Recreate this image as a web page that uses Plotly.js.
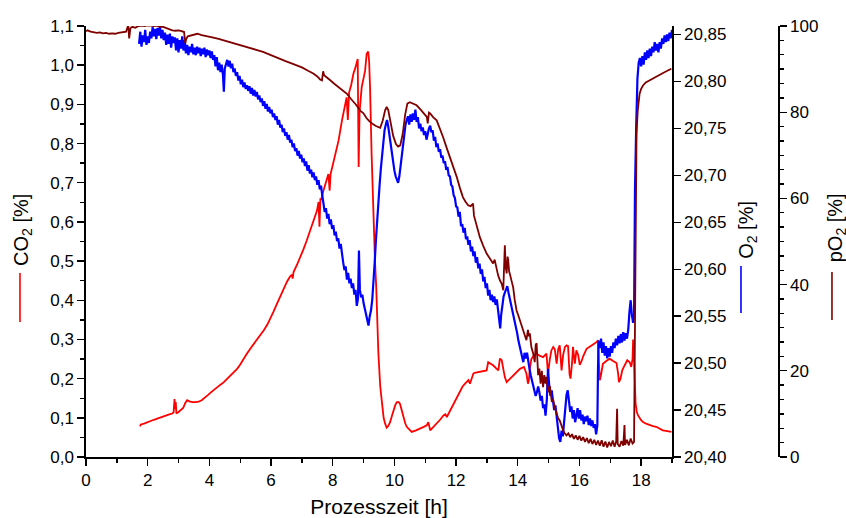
<!DOCTYPE html>
<html>
<head>
<meta charset="utf-8">
<script src="https://cdn.plot.ly/plotly-3.0.1.min.js"></script>
<style>html,body{margin:0;padding:0;background:#fff;}#chart{width:846px;height:518px;}</style>
</head>
<body>
<div id="chart"></div>
<script>
// Prozesszeit [h] vs. CO2 [%]
const co2Data = [
[1.75,0.078],[1.78,0.083],[1.88,0.085],[2.00,0.088],[2.10,0.091],[2.20,0.095],[2.31,0.098],[2.40,0.101],[2.50,0.103],[2.60,0.106],
[2.70,0.109],[2.80,0.111],[2.84,0.114],[2.87,0.148],[2.89,0.122],[2.91,0.140],[2.93,0.111],[3.00,0.115],[3.06,0.119],[3.15,0.125],
[3.22,0.138],[3.28,0.145],[3.35,0.142],[3.45,0.140],[3.55,0.140],[3.65,0.141],[3.75,0.145],[3.82,0.149],[3.95,0.158],[4.05,0.165],
[4.14,0.170],[4.25,0.177],[4.35,0.184],[4.47,0.191],[4.58,0.200],[4.68,0.208],[4.80,0.217],[4.90,0.225],[5.00,0.236],[5.10,0.250],
[5.22,0.264],[5.35,0.279],[5.45,0.290],[5.55,0.298],[5.65,0.310],[5.76,0.323],[5.88,0.338],[5.98,0.353],[6.08,0.371],[6.19,0.391],
[6.30,0.410],[6.42,0.432],[6.52,0.448],[6.62,0.461],[6.68,0.465],[6.70,0.455],[6.73,0.472],[6.85,0.492],[6.95,0.510],[7.05,0.530],
[7.16,0.553],[7.27,0.578],[7.38,0.603],[7.49,0.629],[7.54,0.651],[7.57,0.588],[7.60,0.660],[7.62,0.655],[7.70,0.680],[7.81,0.706],
[7.86,0.722],[7.90,0.680],[7.93,0.722],[7.97,0.735],[8.08,0.774],[8.19,0.808],[8.30,0.859],[8.40,0.905],[8.45,0.918],[8.49,0.860],
[8.53,0.930],[8.60,0.950],[8.67,0.978],[8.74,0.995],[8.78,1.004],[8.81,1.016],[8.84,0.740],[8.87,0.880],[8.94,0.944],[8.99,0.961],
[9.05,0.986],[9.10,1.029],[9.15,1.035],[9.18,1.010],[9.21,0.944],[9.26,0.774],[9.32,0.604],[9.37,0.500],[9.41,0.434],[9.48,0.264],
[9.54,0.180],[9.59,0.136],[9.65,0.100],[9.70,0.085],[9.75,0.075],[9.80,0.079],[9.86,0.089],[9.92,0.105],[9.97,0.119],[10.03,0.133],
[10.08,0.140],[10.14,0.140],[10.18,0.136],[10.24,0.118],[10.29,0.102],[10.35,0.086],[10.40,0.077],[10.56,0.064],[10.70,0.068],[10.83,0.072],
[10.95,0.077],[11.05,0.081],[11.10,0.089],[11.16,0.068],[11.25,0.075],[11.37,0.085],[11.48,0.095],[11.59,0.106],[11.65,0.109],[11.70,0.102],
[11.80,0.118],[11.91,0.136],[12.02,0.153],[12.13,0.170],[12.21,0.180],[12.29,0.187],[12.40,0.196],[12.45,0.187],[12.56,0.213],[12.60,0.215],
[12.77,0.217],[12.90,0.220],[12.99,0.221],[13.04,0.242],[13.12,0.238],[13.20,0.234],[13.30,0.226],[13.37,0.221],[13.42,0.251],[13.48,0.247],
[13.53,0.225],[13.58,0.204],[13.64,0.191],[13.75,0.200],[13.85,0.208],[13.96,0.217],[14.07,0.225],[14.20,0.230],[14.28,0.213],[14.33,0.187],
[14.36,0.196],[14.39,0.225],[14.44,0.250],[14.50,0.257],[14.61,0.264],[14.72,0.258],[14.82,0.255],[14.93,0.264],[14.98,0.213],[15.04,0.250],
[15.09,0.272],[15.15,0.281],[15.20,0.275],[15.26,0.238],[15.31,0.275],[15.36,0.285],[15.42,0.221],[15.47,0.260],[15.53,0.281],[15.58,0.285],
[15.63,0.283],[15.68,0.210],[15.71,0.200],[15.76,0.240],[15.79,0.281],[15.85,0.238],[15.90,0.272],[15.96,0.260],[16.01,0.235],[16.07,0.245],
[16.12,0.257],[16.23,0.276],[16.34,0.283],[16.44,0.287],[16.55,0.293],[16.60,0.298],[16.63,0.240],[16.66,0.196],[16.70,0.210],[16.76,0.238],
[16.87,0.245],[16.98,0.251],[17.09,0.245],[17.20,0.240],[17.25,0.215],[17.28,0.191],[17.33,0.200],[17.39,0.222],[17.44,0.230],[17.55,0.247],
[17.63,0.242],[17.68,0.230],[17.72,0.250],[17.74,0.300],[17.77,0.250],[17.79,0.179],[17.82,0.136],[17.86,0.115],[17.90,0.106],[18.00,0.094],
[18.06,0.089],[18.16,0.085],[18.27,0.081],[18.38,0.079],[18.49,0.077],[18.60,0.072],[18.70,0.068],[18.85,0.066],[18.98,0.064]
];

// Prozesszeit [h] vs. O2 [%]
const o2Data = [
[1.72,20.840],[1.76,20.853],[1.80,20.837],[1.84,20.849],[1.88,20.842],[1.92,20.855],[1.96,20.839],[2.00,20.848],[2.04,20.841],[2.08,20.853],
[2.12,20.846],[2.16,20.858],[2.20,20.848],[2.24,20.856],[2.28,20.845],[2.32,20.857],[2.36,20.849],[2.40,20.858],[2.44,20.846],[2.48,20.855],
[2.52,20.844],[2.56,20.852],[2.60,20.839],[2.64,20.850],[2.68,20.840],[2.72,20.851],[2.76,20.836],[2.80,20.848],[2.84,20.841],[2.88,20.847],
[2.92,20.833],[2.96,20.846],[3.00,20.831],[3.04,20.844],[3.08,20.835],[3.12,20.848],[3.16,20.833],[3.20,20.844],[3.24,20.830],[3.28,20.839],
[3.32,20.828],[3.36,20.837],[3.40,20.831],[3.44,20.840],[3.48,20.829],[3.52,20.836],[3.56,20.828],[3.60,20.837],[3.64,20.830],[3.68,20.836],
[3.72,20.827],[3.76,20.835],[3.80,20.829],[3.84,20.836],[3.88,20.826],[3.92,20.834],[3.96,20.828],[4.00,20.833],[4.04,20.825],[4.08,20.832],
[4.12,20.823],[4.16,20.828],[4.20,20.816],[4.24,20.826],[4.28,20.812],[4.32,20.820],[4.36,20.810],[4.40,20.818],[4.44,20.807],[4.47,20.789],
[4.50,20.814],[4.54,20.820],[4.58,20.823],[4.62,20.816],[4.66,20.822],[4.70,20.814],[4.74,20.819],[4.78,20.810],[4.82,20.814],[4.86,20.806],
[4.90,20.810],[4.94,20.801],[4.98,20.806],[5.02,20.797],[5.06,20.802],[5.10,20.794],[5.14,20.799],[5.18,20.792],[5.22,20.796],[5.26,20.790],
[5.30,20.795],[5.34,20.787],[5.38,20.793],[5.42,20.785],[5.46,20.791],[5.50,20.784],[5.54,20.789],[5.58,20.781],[5.62,20.785],[5.66,20.778],
[5.70,20.782],[5.74,20.774],[5.78,20.779],[5.82,20.771],[5.86,20.776],[5.90,20.768],[5.94,20.773],[5.98,20.766],[6.02,20.770],[6.06,20.762],
[6.10,20.766],[6.14,20.759],[6.18,20.763],[6.22,20.754],[6.26,20.759],[6.30,20.751],[6.34,20.754],[6.38,20.746],[6.42,20.750],[6.46,20.742],
[6.50,20.746],[6.54,20.738],[6.58,20.743],[6.62,20.735],[6.66,20.738],[6.70,20.730],[6.74,20.734],[6.78,20.726],[6.82,20.729],[6.86,20.721],
[6.90,20.726],[6.94,20.718],[6.98,20.722],[7.02,20.714],[7.06,20.718],[7.10,20.710],[7.14,20.715],[7.18,20.705],[7.22,20.711],[7.26,20.702],
[7.30,20.706],[7.34,20.698],[7.38,20.703],[7.42,20.695],[7.46,20.699],[7.50,20.690],[7.54,20.695],[7.58,20.685],[7.62,20.689],[7.66,20.679],
[7.70,20.668],[7.74,20.661],[7.78,20.665],[7.82,20.654],[7.86,20.659],[7.90,20.648],[7.94,20.653],[7.98,20.643],[8.02,20.647],[8.06,20.636],
[8.10,20.640],[8.14,20.630],[8.18,20.633],[8.22,20.622],[8.26,20.627],[8.30,20.614],[8.34,20.607],[8.38,20.599],[8.42,20.603],[8.46,20.589],
[8.50,20.596],[8.54,20.585],[8.58,20.590],[8.62,20.580],[8.66,20.585],[8.70,20.573],[8.74,20.578],[8.78,20.561],[8.82,20.569],[8.85,20.620],
[8.88,20.578],[8.92,20.570],[8.96,20.573],[9.00,20.564],[9.04,20.558],[9.08,20.550],[9.12,20.543],[9.16,20.540],[9.20,20.550],[9.24,20.556],
[9.28,20.567],[9.32,20.583],[9.36,20.607],[9.40,20.631],[9.44,20.654],[9.48,20.673],[9.52,20.690],[9.56,20.707],[9.60,20.721],[9.64,20.735],
[9.68,20.748],[9.72,20.754],[9.76,20.759],[9.80,20.752],[9.84,20.742],[9.88,20.730],[9.92,20.721],[9.96,20.714],[10.00,20.705],[10.04,20.699],
[10.08,20.694],[10.12,20.692],[10.16,20.699],[10.20,20.711],[10.24,20.721],[10.28,20.735],[10.32,20.746],[10.36,20.754],[10.40,20.759],[10.44,20.763],
[10.48,20.754],[10.52,20.765],[10.56,20.757],[10.60,20.766],[10.64,20.759],[10.68,20.770],[10.72,20.757],[10.76,20.762],[10.80,20.750],[10.84,20.755],
[10.88,20.747],[10.92,20.751],[10.96,20.743],[11.00,20.747],[11.04,20.738],[11.08,20.745],[11.12,20.750],[11.16,20.753],[11.20,20.746],[11.24,20.748],
[11.28,20.737],[11.32,20.741],[11.36,20.730],[11.40,20.734],[11.44,20.725],[11.48,20.728],[11.52,20.719],[11.56,20.721],[11.60,20.713],[11.64,20.715],
[11.68,20.706],[11.72,20.709],[11.76,20.700],[11.80,20.699],[11.84,20.690],[11.88,20.688],[11.92,20.679],[11.96,20.676],[12.00,20.667],[12.04,20.666],
[12.08,20.656],[12.12,20.661],[12.16,20.646],[12.20,20.648],[12.24,20.639],[12.28,20.644],[12.32,20.632],[12.36,20.635],[12.40,20.626],[12.44,20.631],
[12.48,20.619],[12.52,20.624],[12.56,20.614],[12.60,20.619],[12.64,20.607],[12.68,20.613],[12.72,20.601],[12.76,20.606],[12.80,20.595],[12.84,20.600],
[12.88,20.587],[12.92,20.592],[12.96,20.580],[13.00,20.585],[13.04,20.572],[13.08,20.578],[13.12,20.567],[13.16,20.573],[13.20,20.565],[13.24,20.571],
[13.28,20.562],[13.32,20.568],[13.36,20.558],[13.40,20.548],[13.43,20.537],[13.46,20.551],[13.50,20.562],[13.54,20.571],[13.58,20.575],[13.62,20.580],
[13.66,20.582],[13.70,20.575],[13.74,20.569],[13.78,20.564],[13.82,20.557],[13.86,20.550],[13.90,20.546],[13.94,20.537],[13.98,20.532],[14.02,20.524],
[14.06,20.518],[14.10,20.511],[14.14,20.506],[14.18,20.501],[14.22,20.511],[14.26,20.505],[14.30,20.511],[14.34,20.499],[14.38,20.494],[14.42,20.487],
[14.46,20.482],[14.50,20.474],[14.54,20.470],[14.58,20.465],[14.62,20.469],[14.66,20.475],[14.70,20.469],[14.74,20.460],[14.78,20.465],[14.82,20.452],
[14.86,20.456],[14.90,20.444],[14.94,20.460],[14.98,20.494],[15.02,20.476],[15.06,20.465],[15.10,20.471],[15.14,20.456],[15.18,20.450],[15.22,20.455],
[15.26,20.441],[15.30,20.434],[15.34,20.420],[15.38,20.416],[15.42,20.428],[15.46,20.422],[15.50,20.439],[15.54,20.455],[15.58,20.466],[15.62,20.471],
[15.66,20.458],[15.70,20.448],[15.74,20.454],[15.78,20.441],[15.82,20.450],[15.86,20.437],[15.90,20.444],[15.94,20.452],[15.98,20.441],[16.02,20.450],
[16.06,20.439],[16.10,20.445],[16.14,20.435],[16.18,20.443],[16.22,20.438],[16.26,20.444],[16.30,20.434],[16.34,20.441],[16.38,20.433],[16.42,20.439],
[16.46,20.431],[16.50,20.435],[16.54,20.424],[16.58,20.434],[16.60,20.492],[16.62,20.524],[16.66,20.516],[16.70,20.526],[16.74,20.511],[16.78,20.522],
[16.82,20.508],[16.86,20.518],[16.90,20.505],[16.94,20.516],[16.98,20.507],[17.02,20.518],[17.06,20.511],[17.10,20.522],[17.14,20.516],[17.18,20.526],
[17.22,20.519],[17.26,20.529],[17.30,20.521],[17.34,20.531],[17.38,20.522],[17.42,20.533],[17.46,20.524],[17.50,20.532],[17.54,20.526],[17.58,20.535],
[17.62,20.554],[17.66,20.567],[17.70,20.551],[17.74,20.543],[17.77,20.548],[17.80,20.684],[17.84,20.753],[17.88,20.803],[17.92,20.820],[17.96,20.825],
[18.00,20.816],[18.04,20.827],[18.08,20.818],[18.12,20.831],[18.16,20.823],[18.20,20.833],[18.24,20.825],[18.28,20.835],[18.32,20.827],[18.36,20.837],
[18.40,20.831],[18.44,20.842],[18.48,20.833],[18.52,20.840],[18.56,20.831],[18.60,20.842],[18.64,20.835],[18.68,20.846],[18.72,20.840],[18.76,20.849],
[18.80,20.842],[18.84,20.850],[18.88,20.843],[18.92,20.852],[18.96,20.846],[19.00,20.855]
];

// Prozesszeit [h] vs. pO2 [%]
const po2Data = [
[0.00,98.8],[0.05,99.0],[0.15,98.7],[0.25,98.6],[0.35,98.4],[0.45,98.5],[0.55,98.3],[0.65,98.4],[0.75,98.2],[0.85,98.3],
[0.95,98.2],[1.05,98.4],[1.15,98.5],[1.22,98.6],[1.30,98.7],[1.37,100.2],[1.40,97.1],[1.44,99.5],[1.50,99.8],[1.60,99.6],
[1.70,100.0],[1.80,100.1],[1.90,100.0],[2.00,100.2],[2.10,100.1],[2.20,100.0],[2.30,100.1],[2.40,99.8],[2.50,99.8],[2.60,99.5],
[2.70,99.3],[2.80,99.0],[2.90,98.9],[3.00,99.0],[3.10,98.8],[3.18,98.6],[3.22,96.0],[3.25,97.0],[3.30,97.6],[3.39,97.8],
[3.50,98.0],[3.61,98.2],[3.75,97.9],[3.90,97.6],[4.00,97.5],[4.13,97.3],[4.30,97.0],[4.50,96.6],[4.68,96.3],[4.85,95.9],
[5.00,95.6],[5.23,95.1],[5.40,94.7],[5.55,94.4],[5.74,94.0],[5.90,93.5],[6.05,93.0],[6.29,92.4],[6.45,91.9],[6.60,91.5],
[6.85,90.9],[7.00,90.4],[7.20,89.6],[7.37,89.0],[7.50,88.3],[7.59,87.6],[7.65,87.4],[7.69,89.5],[7.72,88.6],[7.80,88.2],
[7.92,87.4],[8.05,86.6],[8.20,85.8],[8.35,85.0],[8.47,84.2],[8.60,83.0],[8.75,81.8],[8.90,80.3],[8.99,79.8],[9.10,78.6],
[9.20,77.8],[9.31,77.2],[9.40,76.8],[9.54,76.4],[9.62,78.0],[9.70,80.5],[9.75,81.2],[9.80,80.5],[9.88,77.5],[9.96,74.5],
[10.05,72.6],[10.12,72.0],[10.19,72.3],[10.27,75.0],[10.35,79.5],[10.42,82.0],[10.50,82.3],[10.60,82.0],[10.72,81.6],[10.85,80.6],
[10.96,79.8],[11.05,78.9],[11.08,77.4],[11.12,79.9],[11.16,79.7],[11.26,78.8],[11.37,78.1],[11.48,76.2],[11.58,74.2],[11.70,71.6],
[11.80,69.6],[11.90,67.3],[12.02,65.0],[12.12,62.5],[12.22,60.3],[12.30,59.3],[12.39,58.4],[12.47,58.2],[12.55,58.8],[12.58,56.0],
[12.62,55.0],[12.67,53.4],[12.72,52.2],[12.77,51.0],[12.88,49.0],[12.99,47.2],[13.10,46.0],[13.20,44.9],[13.25,45.8],[13.31,43.3],
[13.36,42.2],[13.42,41.0],[13.48,40.2],[13.53,38.7],[13.56,43.0],[13.58,49.1],[13.61,44.0],[13.64,42.6],[13.67,46.5],[13.69,45.6],
[13.72,43.0],[13.74,42.6],[13.80,40.8],[13.85,39.4],[13.90,36.5],[13.96,34.0],[14.01,33.0],[14.07,31.7],[14.12,30.5],[14.17,29.4],
[14.22,28.0],[14.28,27.1],[14.33,29.5],[14.36,28.0],[14.39,28.7],[14.44,25.5],[14.50,24.0],[14.55,22.0],[14.58,26.0],[14.61,26.4],
[14.66,19.0],[14.70,20.5],[14.74,17.0],[14.78,20.0],[14.82,16.2],[14.86,19.0],[14.90,17.0],[14.93,18.6],[14.98,15.0],[15.04,16.5],
[15.10,13.0],[15.15,13.2],[15.20,11.5],[15.26,10.1],[15.31,9.0],[15.36,8.5],[15.42,7.0],[15.47,6.2],[15.52,5.5],[15.58,5.0],
[15.64,5.5],[15.70,4.6],[15.76,5.3],[15.82,4.2],[15.88,5.0],[15.94,4.0],[16.00,4.9],[16.06,3.8],[16.12,4.6],[16.18,3.5],
[16.24,4.4],[16.30,3.2],[16.36,4.2],[16.42,3.0],[16.48,4.0],[16.54,2.8],[16.60,3.8],[16.66,2.6],[16.72,3.9],[16.78,2.4],
[16.84,3.6],[16.90,2.2],[16.96,3.5],[17.02,2.5],[17.08,3.8],[17.14,2.4],[17.19,3.6],[17.22,11.2],[17.24,3.0],[17.30,2.4],
[17.36,3.7],[17.42,2.6],[17.46,7.4],[17.48,2.8],[17.54,4.0],[17.60,2.7],[17.66,4.3],[17.72,3.1],[17.77,3.5],[17.79,20.0],
[17.81,45.0],[17.83,66.0],[17.85,75.0],[17.89,80.4],[17.95,84.3],[18.00,85.4],[18.06,86.2],[18.15,86.9],[18.27,87.4],[18.38,87.8],
[18.49,88.2],[18.60,88.6],[18.71,89.1],[18.85,89.6],[18.98,90.1]
];

const xTitle = 'Prozesszeit [h]';
const co2Title = 'CO<sub>2</sub> [%]';
const o2Title = 'O<sub>2</sub> [%]';
const po2Title = 'pO<sub>2</sub> [%]';

const colCO2 = '#ff0000', colO2 = '#0000ff', colPO2 = '#800000';
const FONT = 'Liberation Sans, Arial, sans-serif';

const col = (arr, i) => arr.map(p => p[i]);

const traces = [
  {x: col(co2Data,0), y: col(co2Data,1), type:'scatter', mode:'lines', yaxis:'y',
   line:{color:colCO2, width:1.8}, hoverinfo:'skip'},
  {x: col(o2Data,0), y: col(o2Data,1), type:'scatter', mode:'lines', yaxis:'y2',
   line:{color:colO2, width:2.2}, hoverinfo:'skip'},
  {x: col(po2Data,0), y: col(po2Data,1), type:'scatter', mode:'lines', yaxis:'y3',
   line:{color:colPO2, width:1.8}, hoverinfo:'skip'}
];

const axisBase = {
  showgrid:false, zeroline:false, showline:true, linecolor:'#000', linewidth:1.6,
  ticks:'outside', ticklen:7, tickwidth:1.4, tickcolor:'#000',
  tickfont:{family:FONT, size:17, color:'#000'}, fixedrange:true
};

const layout = {
  width:846, height:518,
  margin:{l:86, r:68, t:26, b:61, pad:0},
  paper_bgcolor:'#fff', plot_bgcolor:'#fff',
  separators:',.',
  showlegend:false,
  font:{family:FONT, size:17, color:'#000'},
  xaxis: Object.assign({}, axisBase, {
    domain:[0, 0.8468], range:[0,19], tick0:0, dtick:2,
    minor:{dtick:1, ticks:'outside', ticklen:4, tickwidth:1.4, tickcolor:'#000', showgrid:false},
    title:{text:xTitle, font:{family:FONT, size:21, color:'#000'}, standoff:12}
  }),
  yaxis: Object.assign({}, axisBase, {
    range:[0,1.1], tick0:0, dtick:0.1, tickformat:'.1f',
    minor:{dtick:0.05, ticks:'outside', ticklen:4, tickwidth:1.4, tickcolor:'#000', showgrid:false}
  }),
  yaxis2: Object.assign({}, axisBase, {
    overlaying:'y', side:'right', anchor:'x',
    range:[20.40, 20.8591], tick0:20.40, dtick:0.05, tickformat:'.2f'
  }),
  yaxis3: Object.assign({}, axisBase, {
    overlaying:'y', side:'right', anchor:'free', position:1,
    range:[0,100], tick0:0, dtick:20,
    minor:{dtick:3.33333, ticks:'outside', ticklen:4, tickwidth:1.4, tickcolor:'#000', showgrid:false}
  }),
  annotations:[
    {text:co2Title, xref:'paper', yref:'paper', x:-0.091, y:0.527, textangle:-90,
     xanchor:'center', yanchor:'middle', showarrow:false, font:{family:FONT, size:20, color:'#000'}},
    {text:o2Title, xref:'paper', yref:'paper', x:0.9566, y:0.527, textangle:-90,
     xanchor:'center', yanchor:'middle', showarrow:false, font:{family:FONT, size:20, color:'#000'}},
    {text:po2Title, xref:'paper', yref:'paper', x:1.0840, y:0.531, textangle:-90,
     xanchor:'center', yanchor:'middle', showarrow:false, font:{family:FONT, size:20, color:'#000'}}
  ],
  shapes:[
    {type:'line', xref:'paper', yref:'paper', x0:-0.0954, x1:-0.0954, y0:0.313, y1:0.427, line:{color:colCO2, width:1.6}},
    {type:'line', xref:'paper', yref:'paper', x0:0.9465, x1:0.9465, y0:0.334, y1:0.443, line:{color:colO2, width:1.6}},
    {type:'line', xref:'paper', yref:'paper', x0:1.078, x1:1.078, y0:0.318, y1:0.429, line:{color:colPO2, width:1.6}}
  ]
};

Plotly.newPlot('chart', traces, layout, {displayModeBar:false, staticPlot:true});
</script>
</body>
</html>
